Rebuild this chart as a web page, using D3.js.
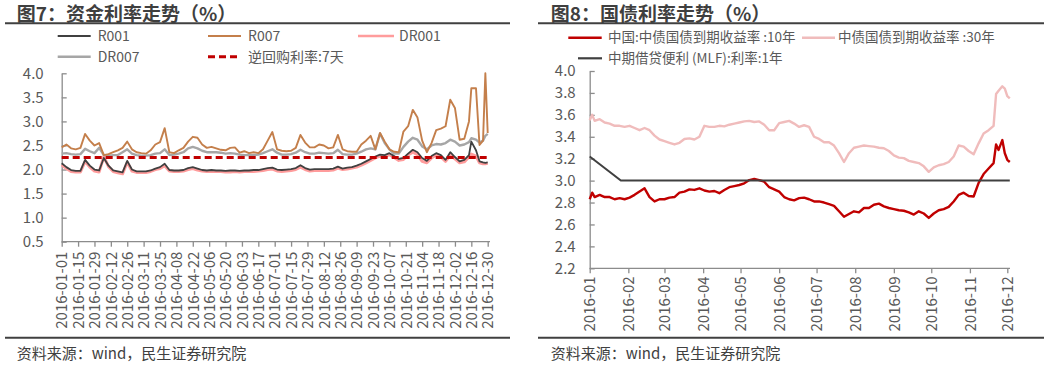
<!DOCTYPE html>
<html><head><meta charset="utf-8">
<script src="https://cdn.jsdelivr.net/npm/d3@7"></script>
<style>
html,body{margin:0;padding:0;background:#fff;}
svg{display:block;font-family:"Noto Sans CJK SC","Noto Sans",sans-serif;}
</style></head>
<body><svg id="chart" width="1044" height="367"></svg>
<script>
// ---------- Figure 7 data (day offsets from 2016-01-01) ----------
const leftDays = [0,4,8,12,16,20,24,28,32,36,40,44,48,52,56,60,64,68,72,76,80,84,88,92,96,100,104,108,112,116,120,124,128,132,136,140,144,148,152,156,160,164,168,172,176,180,184,188,192,196,200,204,208,212,216,220,224,228,232,236,240,244,248,252,256,260,264,268,272,276,280,284,288,292,296,300,304,308,312,316,320,324,328,332,336,340,344,348,350,354,357,360,362,364];
const r007 = [2.46,2.52,2.44,2.42,2.45,2.74,2.60,2.50,2.55,2.30,2.32,2.36,2.40,2.45,2.58,2.42,2.36,2.34,2.33,2.40,2.52,2.57,2.86,2.36,2.34,2.40,2.45,2.58,2.68,2.66,2.52,2.45,2.47,2.44,2.41,2.40,2.45,2.46,2.35,2.38,2.34,2.36,2.34,2.42,2.60,2.78,2.42,2.39,2.38,2.39,2.45,2.72,2.56,2.46,2.46,2.52,2.50,2.44,2.46,2.72,2.42,2.38,2.37,2.37,2.52,2.60,2.70,2.42,2.76,2.58,2.42,2.37,2.36,2.79,2.90,3.24,3.08,2.60,2.36,2.55,2.82,2.85,2.90,3.45,3.28,2.62,2.64,3.00,3.69,3.69,2.51,2.60,4.00,2.76];
const dr007 = [2.33,2.34,2.32,2.31,2.32,2.43,2.38,2.34,2.45,2.30,2.29,2.30,2.30,2.36,2.42,2.33,2.30,2.29,2.29,2.30,2.33,2.34,2.42,2.30,2.31,2.33,2.36,2.44,2.47,2.44,2.39,2.36,2.36,2.36,2.35,2.33,2.34,2.33,2.31,2.30,2.30,2.30,2.31,2.34,2.38,2.42,2.35,2.31,2.31,2.32,2.35,2.41,2.36,2.33,2.33,2.35,2.34,2.33,2.34,2.41,2.32,2.31,2.31,2.33,2.37,2.42,2.44,2.42,2.75,2.55,2.42,2.33,2.33,2.47,2.58,2.66,2.62,2.48,2.42,2.50,2.53,2.52,2.55,2.62,2.58,2.50,2.52,2.57,2.65,2.62,2.56,2.60,2.70,2.74];
const r001 = [2.13,2.05,1.99,1.97,1.97,2.20,2.08,2.00,1.98,2.24,2.08,1.98,1.96,1.94,2.18,2.00,1.96,1.96,1.96,1.98,2.02,2.05,2.12,1.99,1.98,1.98,1.99,2.03,2.05,2.02,1.99,1.98,1.99,1.98,1.98,1.97,1.98,1.98,1.97,1.98,1.98,1.99,1.99,2.01,2.03,2.04,2.00,1.99,2.00,2.01,2.03,2.09,2.03,2.00,2.01,2.01,2.01,2.01,2.02,2.06,2.02,2.04,2.05,2.08,2.12,2.17,2.22,2.27,2.31,2.30,2.34,2.28,2.22,2.24,2.33,2.41,2.36,2.24,2.18,2.28,2.34,2.30,2.20,2.36,2.26,2.17,2.20,2.30,2.58,2.40,2.17,2.15,2.14,2.15];
const dr001 = [2.10,2.02,1.96,1.95,1.95,2.17,2.05,1.97,1.95,2.27,2.06,1.96,1.93,1.91,2.15,1.97,1.94,1.94,1.94,1.96,2.00,2.02,2.08,1.97,1.96,1.96,1.97,2.00,2.02,1.99,1.97,1.96,1.96,1.96,1.96,1.95,1.95,1.96,1.95,1.96,1.96,1.96,1.97,1.98,2.00,2.01,1.97,1.96,1.97,1.98,2.00,2.05,2.00,1.97,1.98,1.98,1.98,1.98,1.99,2.03,2.00,2.01,2.03,2.05,2.09,2.14,2.19,2.24,2.28,2.27,2.31,2.25,2.19,2.21,2.30,2.36,2.31,2.17,2.14,2.24,2.30,2.26,2.17,2.30,2.22,2.14,2.16,2.26,2.32,2.28,2.14,2.12,2.12,2.13];
const repoDays = [0,364];
const repoRate = [2.25,2.25];
const leftYTicks = [0.5,1.0,1.5,2.0,2.5,3.0,3.5,4.0];
const leftXTicks = ["2016-01-01","2016-01-15","2016-01-29","2016-02-12","2016-02-26","2016-03-11","2016-03-25","2016-04-08","2016-04-22","2016-05-06","2016-05-20","2016-06-03","2016-06-17","2016-07-01","2016-07-15","2016-07-29","2016-08-12","2016-08-26","2016-09-09","2016-09-23","2016-10-07","2016-10-21","2016-11-04","2016-11-18","2016-12-02","2016-12-16","2016-12-30"];

// ---------- Figure 8 data ----------
const rightDays = [0,2,4,8,12,16,20,24,28,32,36,40,44,48,52,56,60,64,68,72,76,80,84,88,92,96,100,104,108,112,116,120,124,128,132,136,140,144,148,152,156,160,164,168,172,176,180,184,188,192,196,200,204,208,212,216,220,224,228,232,236,240,244,248,252,256,260,264,268,272,276,280,284,288,292,296,300,304,308,312,316,320,324,326,328,331,333,335,337];
const cgb10 = [2.83,2.89,2.85,2.87,2.85,2.85,2.83,2.84,2.83,2.845,2.87,2.90,2.93,2.85,2.81,2.83,2.83,2.845,2.85,2.89,2.90,2.92,2.915,2.93,2.91,2.90,2.905,2.885,2.915,2.94,2.95,2.96,2.975,3.005,3.015,3.005,2.99,2.94,2.92,2.90,2.85,2.83,2.82,2.84,2.845,2.83,2.81,2.81,2.80,2.785,2.77,2.72,2.67,2.695,2.72,2.71,2.75,2.75,2.78,2.79,2.765,2.75,2.74,2.73,2.725,2.71,2.69,2.72,2.70,2.66,2.70,2.73,2.74,2.76,2.81,2.87,2.89,2.86,2.855,2.98,3.06,3.11,3.16,3.33,3.28,3.37,3.25,3.19,3.17];
const cgb30 = [3.55,3.60,3.545,3.56,3.53,3.52,3.50,3.50,3.49,3.50,3.48,3.46,3.48,3.46,3.41,3.375,3.36,3.345,3.33,3.345,3.38,3.385,3.375,3.40,3.50,3.49,3.49,3.50,3.495,3.51,3.52,3.53,3.54,3.545,3.535,3.54,3.51,3.46,3.46,3.525,3.535,3.545,3.52,3.49,3.505,3.49,3.40,3.38,3.35,3.35,3.32,3.25,3.17,3.25,3.30,3.31,3.32,3.315,3.31,3.30,3.295,3.27,3.23,3.21,3.205,3.18,3.17,3.16,3.13,3.08,3.12,3.14,3.15,3.17,3.22,3.32,3.31,3.27,3.24,3.34,3.43,3.46,3.50,3.79,3.82,3.86,3.84,3.77,3.75];
const mlfDays = [0,25,337];
const mlf1y = [3.22,3.00,3.00];
const rightYTicks = [2.2,2.4,2.6,2.8,3.0,3.2,3.4,3.6,3.8,4.0];
const rightXTicks = ["2016-01","2016-02","2016-03","2016-04","2016-05","2016-06","2016-07","2016-08","2016-09","2016-10","2016-11","2016-12"];

const base = new Date(2016,0,1);
const dayDate = d => d3.timeDay.offset(base, d);
const parseDay = d3.timeParse("%Y-%m-%d");
const parseMonth = d3.timeParse("%Y-%m");

const svg = d3.select("#chart");
svg.append("rect").attr("width",1044).attr("height",367).attr("fill","#fff");

const TXT = "#595959", AX = "#8c8c8c", DARK = "#404040";

function frame(x0, x1, tx, title) {
  svg.append("text").attr("x",tx).attr("y",20.5).attr("font-size",19).attr("font-weight","bold")
    .attr("fill","#3f3f3f").text(title);
  svg.append("line").attr("x1",x0).attr("x2",x1).attr("y1",23.3).attr("y2",23.3).attr("stroke",DARK).attr("stroke-width",2);
  svg.append("line").attr("x1",x0).attr("x2",x1).attr("y1",337.7).attr("y2",337.7).attr("stroke",DARK).attr("stroke-width",2);
  svg.append("text").attr("x",tx).attr("y",359).attr("font-size",15).attr("fill",DARK).text("资料来源：wind，民生证券研究院");
}

function styleAxis(g) {
  g.selectAll(".domain").attr("stroke",AX).attr("stroke-width",1.3);
  g.selectAll(".tick line").attr("stroke",AX).attr("stroke-width",1.3);
  g.selectAll("text").attr("fill",TXT).attr("font-size",15).attr("font-family","Noto Sans CJK SC");
}

function legendItem(x, y, len, tx, label, color, width, dash, fs) {
  svg.append("line").attr("x1",x).attr("x2",x+len).attr("y1",y).attr("y2",y)
    .attr("stroke",color).attr("stroke-width",width).attr("stroke-dasharray",dash||null);
  svg.append("text").attr("x",tx).attr("y",y).attr("dy","0.35em").attr("font-size",fs).attr("fill",TXT).text(label);
}

// ================= Figure 7 =================
frame(5, 510, 16.7, "图7：资金利率走势（%）");
{
  const x = d3.scaleTime().domain([parseDay("2016-01-01"), parseDay("2016-12-30")]).range([61.7, 487.7]);
  const y = d3.scaleLinear().domain([0.5, 4.0]).range([241.7, 73.3]);
  const gy = svg.append("g").attr("transform","translate(61.7,0)")
    .call(d3.axisLeft(y).tickValues(leftYTicks).tickFormat(d3.format(".1f")).tickSizeInner(-5).tickSizeOuter(0).tickPadding(18));
  styleAxis(gy);
  const gx = svg.append("g").attr("transform","translate(0,241.7)")
    .call(d3.axisBottom(x).tickValues(leftXTicks.map(parseDay)).tickFormat(d3.timeFormat("%Y-%m-%d")).tickSizeInner(5).tickSizeOuter(0));
  styleAxis(gx);
  gx.select(".domain").attr("d","M61.7,0H490");
  gx.selectAll("text").attr("transform","rotate(-90)").attr("text-anchor","end").attr("x",-10).attr("y",0).attr("dy","0.35em");

  const mk = (days, vals) => days.map((d,i)=>({date: dayDate(d), v: vals[i]}));
  const line = d3.line().x(d=>x(d.date)).y(d=>y(d.v));
  const series = [
    {data: mk(leftDays, dr001), c:"#ff9c9c", w:3},
    {data: mk(leftDays, dr007), c:"#a6a6a6", w:2.4},
    {data: mk(leftDays, r007), c:"#c47f4b", w:1.9},
    {data: mk(leftDays, r001), c:"#404040", w:1.8},
  ];
  series.forEach(s => svg.append("path").datum(s.data).attr("d",line).attr("fill","none")
    .attr("stroke",s.c).attr("stroke-width",s.w).attr("stroke-linejoin","round"));
  svg.append("path").datum(mk(repoDays, repoRate)).attr("d",line).attr("fill","none")
    .attr("stroke","#c00000").attr("stroke-width",3).attr("stroke-dasharray","7,4");

  legendItem(57.7,36,33,97.7,"R001","#404040",2,null,14);
  legendItem(208,36,33,248,"R007","#c47f4b",2,null,14);
  legendItem(358,36,36,399,"DR001","#ff9c9c",2.5,null,14);
  legendItem(57.7,56.7,33,97.7,"DR007","#a6a6a6",2.5,null,14);
  legendItem(208,56.7,33,248,"逆回购利率:7天","#c00000",3,"7,4",14);
}

// ================= Figure 8 =================
frame(538, 1044, 550.7, "图8：国债利率走势（%）");
{
  const x = d3.scaleTime().domain([parseMonth("2016-01"), parseMonth("2016-12")]).range([589.7, 1007.3]);
  const y = d3.scaleLinear().domain([2.2, 4.0]).range([268.3, 71]);
  const gy = svg.append("g").attr("transform","translate(589.7,0)")
    .call(d3.axisLeft(y).tickValues(rightYTicks).tickFormat(d3.format(".1f")).tickSizeInner(-5).tickSizeOuter(0).tickPadding(14));
  styleAxis(gy);
  const gx = svg.append("g").attr("transform","translate(0,268.3)")
    .call(d3.axisBottom(x).tickValues(rightXTicks.map(parseMonth)).tickFormat(d3.timeFormat("%Y-%m")).tickSizeInner(5).tickSizeOuter(0));
  styleAxis(gx);
  gx.select(".domain").attr("d","M589.7,0H1010");
  gx.selectAll("text").attr("transform","rotate(-90)").attr("text-anchor","end").attr("x",-8).attr("y",0).attr("dy","0.35em");

  const mk = (days, vals) => days.map((d,i)=>({date: dayDate(d), v: vals[i]}));
  const line = d3.line().x(d=>x(d.date)).y(d=>y(d.v));
  svg.append("path").datum(mk(rightDays, cgb30)).attr("d",line).attr("fill","none")
    .attr("stroke","#f0bcbc").attr("stroke-width",2.4).attr("stroke-linejoin","round");
  svg.append("path").datum(mk(rightDays, cgb10)).attr("d",line).attr("fill","none")
    .attr("stroke","#c00000").attr("stroke-width",2.4).attr("stroke-linejoin","round");
  svg.append("path").datum(mk(mlfDays, mlf1y)).attr("d",line).attr("fill","none")
    .attr("stroke","#404040").attr("stroke-width",2);

  legendItem(568.3,37.7,33.4,608,"中国:中债国债到期收益率 :10年","#c00000",2.5,null,13.5);
  legendItem(802,37.7,33,838,"中债国债到期收益率 :30年","#f0bcbc",2.5,null,13.5);
  legendItem(578,58.3,24,608,"中期借贷便利 (MLF):利率:1年","#404040",2.2,null,13.5);
}
</script></body></html>
